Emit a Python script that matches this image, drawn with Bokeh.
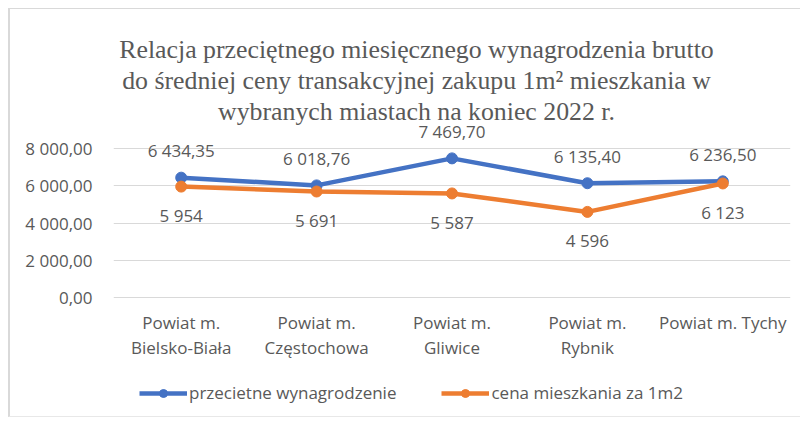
from bokeh.plotting import figure
from bokeh.models import (Range1d, FixedTicker, ColumnDataSource, LabelSet, Label,
                          Legend, LegendItem)
from bokeh.core.properties import value
from bokeh.embed import file_html
from bokeh.resources import INLINE

# ---------------- data ----------------
categories = ["Powiat m.\nBielsko-Biała", "Powiat m.\nCzęstochowa", "Powiat m.\nGliwice",
              "Powiat m.\nRybnik", "Powiat m. Tychy"]
wynagrodzenie = [6434.35, 6018.76, 7469.70, 6135.40, 6236.50]
cena_m2 = [5954, 5691, 5587, 4596, 6123]
y_ticks = [0, 2000, 4000, 6000, 8000]
series_names = ["przecietne wynagrodzenie", "cena mieszkania za 1m2"]
title_lines = ["Relacja przeciętnego miesięcznego wynagrodzenia brutto",
               "do średniej ceny transakcyjnej zakupu 1m² mieszkania w",
               "wybranych miastach na koniec 2022 r."]


def pl(v, dec):
    s = f"{v:,.{dec}f}"
    return s.replace(",", " ").replace(".", ",")


# ---------------- styling ----------------
BLUE = "#4472C4"
ORANGE = "#ED7D31"
GRAY = "#595959"
GRID = "#D9D9D9"
FONT = "Open Sans"

# canvas origin on the page: (10, 9)
CX, CY = 10, 9
W, H = 792, 409
FRAME_L, FRAME_R, FRAME_T, FRAME_B = 113, 790, 20, 416
ZERO_PX = 297
PX_PER_UNIT = (297 - 148) / 8000.0
Y_TOP = (ZERO_PX - FRAME_T) / PX_PER_UNIT
Y_BOT = -(FRAME_B - ZERO_PX) / PX_PER_UNIT

p = figure(width=W, height=H, output_backend="svg", toolbar_location=None,
           x_range=Range1d(-0.5, len(categories) - 0.5), y_range=Range1d(Y_BOT, Y_TOP),
           min_border_left=FRAME_L - CX, min_border_right=CX + W - FRAME_R,
           min_border_top=FRAME_T - CY, min_border_bottom=CY + H - FRAME_B,
           background_fill_color="white", border_fill_color="white")
p.margin = (8, 0, 0, 8)
p.styles = {"border-left": "2px solid #D9D9D9", "border-top": "1px solid #D9D9D9",
            "border-bottom": "1px solid #E8E8E8"}
p.outline_line_color = None
p.xgrid.grid_line_color = None
p.ygrid.grid_line_color = GRID
p.ygrid.grid_line_width = 1
p.ygrid.ticker = FixedTicker(ticks=y_ticks)

xs = list(range(len(categories)))

# axes
p.yaxis.ticker = FixedTicker(ticks=y_ticks)
p.yaxis.major_label_overrides = {t: pl(t, 2) for t in y_ticks}
p.xaxis.ticker = FixedTicker(ticks=xs)
p.xaxis.major_label_overrides = {i: c for i, c in enumerate(categories)}
p.xaxis.fixed_location = 0
for ax in (p.xaxis[0], p.yaxis[0]):
    ax.axis_line_color = None
    ax.major_tick_line_color = None
    ax.minor_tick_line_color = None
    ax.major_label_text_font = FONT
    ax.major_label_text_font_size = "17px"
    ax.major_label_text_color = GRAY
p.yaxis.major_label_standoff = 15
p.xaxis.major_label_standoff = 7
p.xaxis.major_label_text_line_height = 1.13

src = ColumnDataSource(dict(
    x=xs, w=wynagrodzenie, c=cena_m2,
    wl=[pl(v, 2) for v in wynagrodzenie],
    cl=[pl(v, 0) for v in cena_m2],
))

l1 = p.line("x", "w", source=src, line_color=BLUE, line_width=4.5)
s1 = p.scatter("x", "w", source=src, marker="circle", size=11, fill_color=BLUE, line_color=BLUE)
l2 = p.line("x", "c", source=src, line_color=ORANGE, line_width=4.5)
s2 = p.scatter("x", "c", source=src, marker="circle", size=11, fill_color=ORANGE, line_color=ORANGE)

p.add_layout(LabelSet(x="x", y="w", text="wl", source=src, y_offset=27,
                      text_align="center", text_baseline="middle",
                      text_font=value(FONT), text_font_size=value("17px"),
                      text_color=GRAY))
p.add_layout(LabelSet(x="x", y="c", text="cl", source=src, y_offset=-29,
                      text_align="center", text_baseline="middle",
                      text_font=value(FONT), text_font_size=value("17px"),
                      text_color=GRAY))

# page-pixel -> data helpers for the title
px_per_x = (FRAME_R - FRAME_L) / len(categories)


def dx(px):
    return -0.5 + (px - FRAME_L) / px_per_x


def dy(py):
    return (ZERO_PX - py) / PX_PER_UNIT


for i, t in enumerate(title_lines):
    p.add_layout(Label(x=dx(416), y=dy(49 + 31 * i), text=t, text_align="center",
                       text_baseline="alphabetic", text_font="Liberation Serif",
                       text_font_size="25.8px", text_color=GRAY))

legend = Legend(items=[LegendItem(label=series_names[0], renderers=[l1, s1]),
                       LegendItem(label=series_names[1], renderers=[l2, s2])],
                orientation="horizontal", location=(26, FRAME_B - 404),
                glyph_width=48, glyph_height=20, label_standoff=2, spacing=45,
                padding=0, margin=0, border_line_color=None, background_fill_alpha=0,
                label_text_font=FONT, label_text_font_size="17px", label_text_color=GRAY)
p.add_layout(legend, "center")

open("out.html", "w").write(file_html(p, INLINE))
